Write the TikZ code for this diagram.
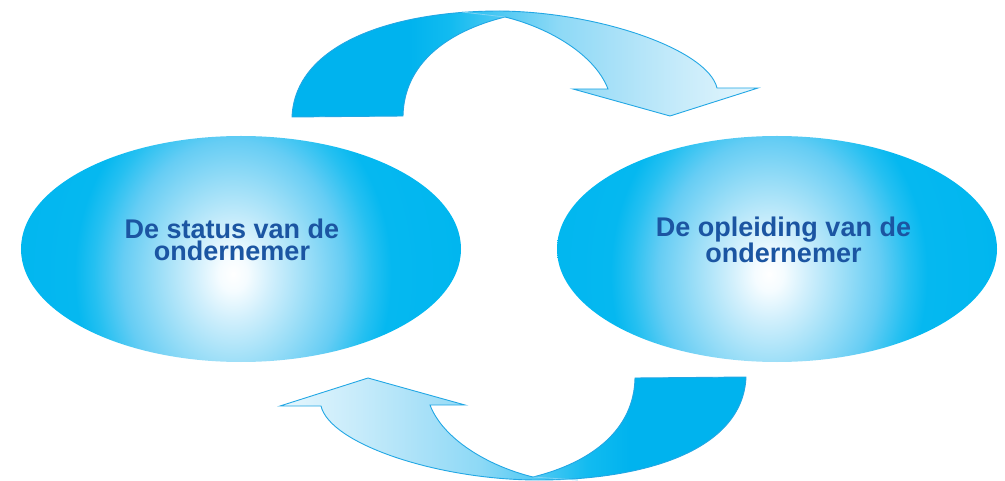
\documentclass[tikz,border=0pt]{standalone}
\usepackage{fontspec}
\setmainfont{Liberation Sans}
\usetikzlibrary{shapes.geometric}
\definecolor{ballout}{HTML}{00B6EF}
\definecolor{txtblue}{HTML}{1B55A2}
\definecolor{arrdark}{HTML}{00B3EE}
\definecolor{arrA}{HTML}{12BBF0}
\definecolor{arrB}{HTML}{50C9F3}
\definecolor{arrC}{HTML}{8DD9F6}
\definecolor{arrD}{HTML}{AAE1F8}
\definecolor{arrE}{HTML}{C6EBFA}
\definecolor{arrF}{HTML}{E6F6FD}
\definecolor{arrline}{HTML}{22A7E4}
\definecolor{crease}{HTML}{7FD3F5}
\definecolor{bA}{HTML}{F5FCFF}
\definecolor{bB}{HTML}{D0EFFC}
\definecolor{bC}{HTML}{98DDF7}
\definecolor{bD}{HTML}{66CDF4}
\definecolor{bE}{HTML}{25C0F1}
\definecolor{bF}{HTML}{05B8F0}
% TikZ maps the path's bounding box onto the central 50bp square of a shading
\pgfdeclareradialshading{ballshade}{\pgfpoint{0bp}{0bp}}{%
  color(0bp)=(white); color(1.5bp)=(bA); color(4bp)=(bB);
  color(8bp)=(bC); color(11.5bp)=(bD); color(14.5bp)=(bE);
  color(16.5bp)=(bF); color(25bp)=(ballout); color(50bp)=(ballout)}
\pgfdeclarehorizontalshading{arrowshade}{100bp}{%
  color(0bp)=(arrdark); color(37.5bp)=(arrdark); color(42bp)=(arrA);
  color(47.5bp)=(arrB); color(53.5bp)=(arrC); color(60bp)=(arrD);
  color(66.5bp)=(arrE); color(75bp)=(arrF); color(100bp)=(arrF)}
\tikzset{
  blob/.style={ellipse, minimum width=440bp, minimum height=226bp, inner sep=0pt,
    path picture={\shade[shading=ballshade]
      ([xshift=-8bp,yshift=-25bp]path picture bounding box.center)
      ellipse [x radius=240bp, y radius=290bp];}},
  label/.style={align=center, text=txtblue, inner sep=0pt,
    font=\fontsize{27bp}{22bp}\selectfont\bfseries},
  bigarrow/.style={draw=arrline, line width=0.9bp, shading=arrowshade, line join=miter},
  creaseline/.style={draw=crease, line width=0.8bp}
}
\begin{document}
\begin{tikzpicture}[x=1bp, y=-1bp]
\useasboundingbox (0,0) rectangle (1005,481);
% ellipses
\node[blob] (status) at (241,249) {};
\node[blob] (opleiding) at (777,249) {};
\node[label] (statustxt) at (232,239.5) {De status van de\\ondernemer};
\node[label] (opleidingtxt) at (783.5,239.5) {De opleiding van de\\ondernemer};
% top arrow
\path[bigarrow]
  (292,117) -- (403,116)
  .. controls (404,65) and (445,32) .. (505,17)
  .. controls (550,28) and (595,55) .. (608,89)
  -- (573,89) -- (670,116) -- (758,88) -- (717,88)
  .. controls (708,50) and (600,12) .. (500,11)
  .. controls (390,11) and (295,45) .. (292,117) -- cycle;
\draw[creaseline] (462,12) -- (505,17);
% bottom arrow
\path[bigarrow, shading angle=180]
  (746,377) -- (635,378)
  .. controls (634,429) and (593,462) .. (533,477)
  .. controls (488,466) and (443,439) .. (430,405)
  -- (465,405) -- (368,378) -- (280,406) -- (321,406)
  .. controls (330,444) and (438,480) .. (538,480)
  .. controls (648,480) and (743,449) .. (746,377) -- cycle;
\draw[creaseline] (533,477) -- (578,480);
\end{tikzpicture}
\end{document}
